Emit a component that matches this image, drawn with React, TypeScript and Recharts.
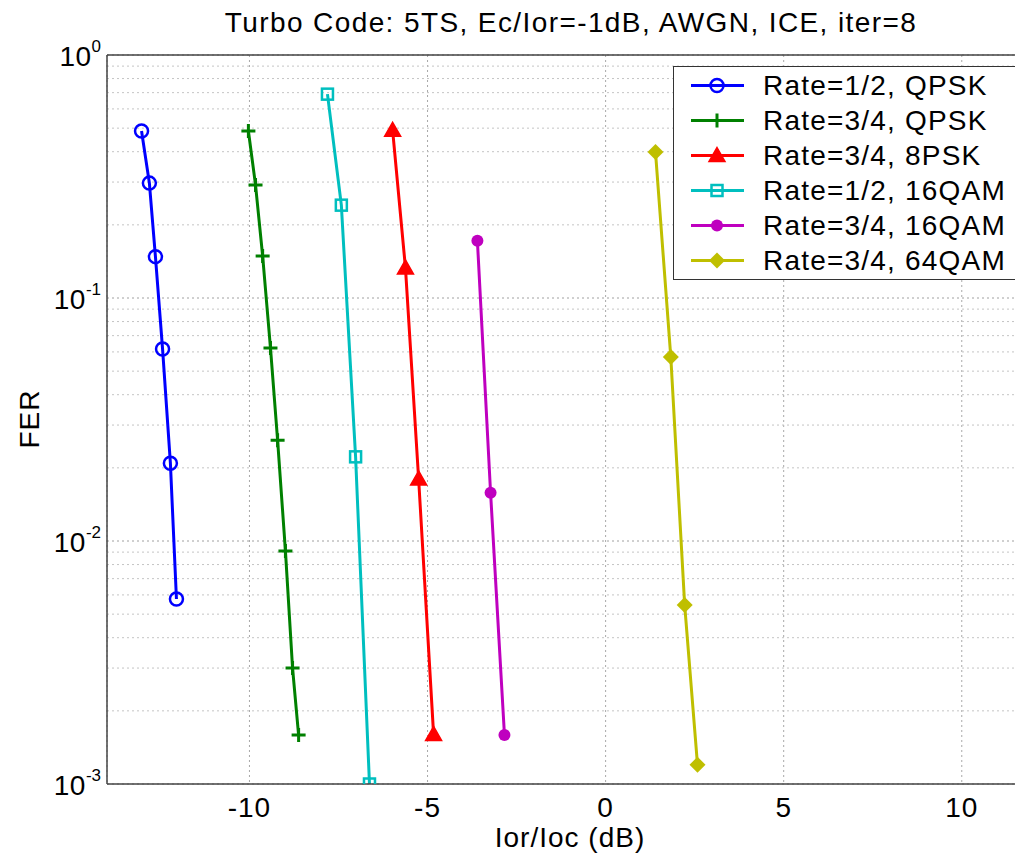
import React from 'react';
import {
  LineChart,
  Line,
  XAxis,
  YAxis,
  CartesianGrid,
  ReferenceLine,
} from 'recharts';

const FONT = '"Liberation Sans", Arial, Helvetica, sans-serif';

// axis ticks
const xTicks = [-10, -5, 0, 5, 10];
const yTicks = [0.001, 0.01, 0.1, 1];
const minorDecades = [0.001, 0.01, 0.1];
const minorMantissas = [2, 3, 4, 5, 6, 7, 8, 9];

// Rate=1/2, QPSK
const r12QpskX = [-13.03, -12.81, -12.64, -12.44, -12.22, -12.05];
const r12QpskY = [0.487, 0.297, 0.148, 0.0617, 0.0209, 0.00577];
// Rate=3/4, QPSK
const r34QpskX = [-10.03, -9.83, -9.63, -9.41, -9.21, -8.99, -8.79, -8.62];
const r34QpskY = [0.487, 0.292, 0.149, 0.0623, 0.026, 0.0091, 0.003, 0.00159];
// Rate=3/4, 8PSK
const r348pskX = [-5.98, -5.62, -5.25, -4.83];
const r348pskY = [0.49, 0.133, 0.018, 0.0016];
// Rate=1/2, 16QAM
const r1216qamX = [-7.81, -7.42, -7.02, -6.63];
const r1216qamY = [0.69, 0.241, 0.0222, 0.001];
// Rate=3/4, 16QAM
const r3416qamX = [-3.6, -3.23, -2.84];
const r3416qamY = [0.172, 0.0158, 0.00159];
// Rate=3/4, 64QAM
const r3464qamX = [1.4, 1.83, 2.22, 2.58];
const r3464qamY = [0.399, 0.0572, 0.00545, 0.0012];

const zip = (xs: number[], ys: number[]) => xs.map((x, i) => ({ x, y: ys[i] }));

type Shape = 'circle' | 'plus' | 'triangle' | 'square' | 'dot' | 'diamond';

const series: { name: string; color: string; shape: Shape; data: { x: number; y: number }[] }[] = [
  { name: 'Rate=1/2, QPSK', color: '#0000ff', shape: 'circle', data: zip(r12QpskX, r12QpskY) },
  { name: 'Rate=3/4, QPSK', color: '#008000', shape: 'plus', data: zip(r34QpskX, r34QpskY) },
  { name: 'Rate=3/4, 8PSK', color: '#ff0000', shape: 'triangle', data: zip(r348pskX, r348pskY) },
  { name: 'Rate=1/2, 16QAM', color: '#00bfbf', shape: 'square', data: zip(r1216qamX, r1216qamY) },
  { name: 'Rate=3/4, 16QAM', color: '#bf00bf', shape: 'dot', data: zip(r3416qamX, r3416qamY) },
  { name: 'Rate=3/4, 64QAM', color: '#bfbf00', shape: 'diamond', data: zip(r3464qamX, r3464qamY) },
];

const Marker = ({ cx, cy, shape, color }: { cx: number; cy: number; shape: Shape; color: string }) => {
  switch (shape) {
    case 'circle':
      return <circle cx={cx} cy={cy} r={6.5} fill="none" stroke={color} strokeWidth={2.5} />;
    case 'plus':
      return (
        <path
          d={`M${cx - 7},${cy}H${cx + 7}M${cx},${cy - 7}V${cy + 7}`}
          stroke={color}
          strokeWidth={3}
          fill="none"
        />
      );
    case 'triangle':
      return (
        <path
          d={`M${cx},${cy - 8}L${cx + 8},${cy + 6}L${cx - 8},${cy + 6}Z`}
          fill={color}
          stroke={color}
          strokeWidth={1.5}
        />
      );
    case 'square':
      return (
        <rect x={cx - 5.5} y={cy - 5.5} width={11} height={11} fill="none" stroke={color} strokeWidth={2.5} />
      );
    case 'dot':
      return <circle cx={cx} cy={cy} r={6} fill={color} />;
    case 'diamond':
      return <path d={`M${cx},${cy - 8}L${cx + 8},${cy}L${cx},${cy + 8}L${cx - 8},${cy}Z`} fill={color} />;
  }
  return null;
};

const YTick = (props: any) => {
  const { x, y, payload } = props;
  const exp = Math.round(Math.log10(payload.value));
  return (
    <text x={x + 2} y={y} textAnchor="end" fill="#000" fontFamily={FONT}>
      <tspan dy={11} fontSize={28} letterSpacing={0.5}>10</tspan>
      <tspan dy={-14} fontSize={17}>{exp}</tspan>
    </text>
  );
};

const XTick = (props: any) => {
  const { x, y, payload } = props;
  return (
    <text x={x} y={y + 25} textAnchor="middle" fill="#000" fontFamily={FONT} fontSize={28} letterSpacing={1}>
      {payload.value}
    </text>
  );
};

const LegendBox = () => (
  <div
    style={{
      position: 'absolute',
      left: 665,
      top: 58,
      width: 354,
      border: '1.5px solid #333',
      background: '#fff',
      padding: '1px 0',
      fontFamily: FONT,
      fontSize: 28,
      letterSpacing: 1.2,
      color: '#000',
      boxSizing: 'border-box',
    }}
  >
    {series.map((s) => (
      <div key={s.name} style={{ display: 'flex', alignItems: 'center', height: 35 }}>
        <svg width={89} height={35} style={{ display: 'block', flex: 'none' }}>
          <line x1={17} y1={17.5} x2={70} y2={17.5} stroke={s.color} strokeWidth={3} />
          <Marker cx={43} cy={17.5} shape={s.shape} color={s.color} />
        </svg>
        <span style={{ whiteSpace: 'nowrap' }}>{s.name}</span>
      </div>
    ))}
  </div>
);

export default function App() {
  return (
    <div style={{ position: 'relative', width: 1015, height: 851, overflow: 'hidden', background: '#fff' }}>
      <div
        style={{
          position: 'absolute',
          left: 0,
          width: 1126,
          top: 0,
          textAlign: 'center',
          fontFamily: FONT,
          fontSize: 28,
          letterSpacing: 1.4,
          lineHeight: '30px',
          color: '#000',
        }}
      >
        Turbo Code: 5TS, Ec/Ior=-1dB, AWGN, ICE, iter=8
      </div>
      <div
        style={{
          position: 'absolute',
          left: 0,
          width: 1124,
          top: 815,
          textAlign: 'center',
          fontFamily: FONT,
          fontSize: 28,
          letterSpacing: 1,
          lineHeight: '30px',
          color: '#000',
        }}
      >
        Ior/Ioc (dB)
      </div>
      <div
        style={{
          position: 'absolute',
          left: 22,
          top: 411,
          transform: 'translate(-50%, -50%) rotate(-90deg)',
          fontFamily: FONT,
          fontSize: 28,
          letterSpacing: 1,
          lineHeight: '30px',
          color: '#000',
        }}
      >
        FER
      </div>
      <LineChart
        width={1040}
        height={851}
        margin={{ top: 47, right: 15, bottom: 0, left: 0 }}
        style={{ position: 'absolute', left: 0, top: 0 }}
      >
        <CartesianGrid horizontal={false} vertical stroke="#a8a8a8" strokeDasharray="2 3" />
        {minorDecades.flatMap((d) =>
          minorMantissas.map((m) => (
            <ReferenceLine
              key={`minor-${d}-${m}`}
              y={d * m}
              stroke="#c4c4c4"
              strokeDasharray="2 3"
              ifOverflow="hidden"
            />
          ))
        )}
        {yTicks.map((t) => (
          <ReferenceLine key={`major-${t}`} y={t} stroke="#a0a0a0" strokeDasharray="2 3" />
        ))}
        <ReferenceLine y={1} stroke="#444" strokeWidth={1.5} />
        <XAxis
          type="number"
          dataKey="x"
          domain={[-14, 12]}
          ticks={xTicks}
          allowDataOverflow
          height={75}
          tickLine={false}
          axisLine={{ stroke: '#444', strokeWidth: 1.5 }}
          tick={<XTick />}
        />
        <YAxis
          type="number"
          dataKey="y"
          scale="log"
          domain={[0.001, 1]}
          ticks={yTicks}
          allowDataOverflow
          width={99}
          tickLine={false}
          axisLine={{ stroke: '#444', strokeWidth: 1.5 }}
          tick={<YTick />}
        />
        {series.map((s) => (
          <Line
            key={s.name}
            name={s.name}
            data={s.data}
            dataKey="y"
            stroke={s.color}
            strokeWidth={3}
            isAnimationActive={false}
            dot={(p: any) => (
              <Marker key={`${s.name}-${p.index}`} cx={p.cx} cy={p.cy} shape={s.shape} color={s.color} />
            )}
            activeDot={false}
          />
        ))}
      </LineChart>
      <LegendBox />
    </div>
  );
}
